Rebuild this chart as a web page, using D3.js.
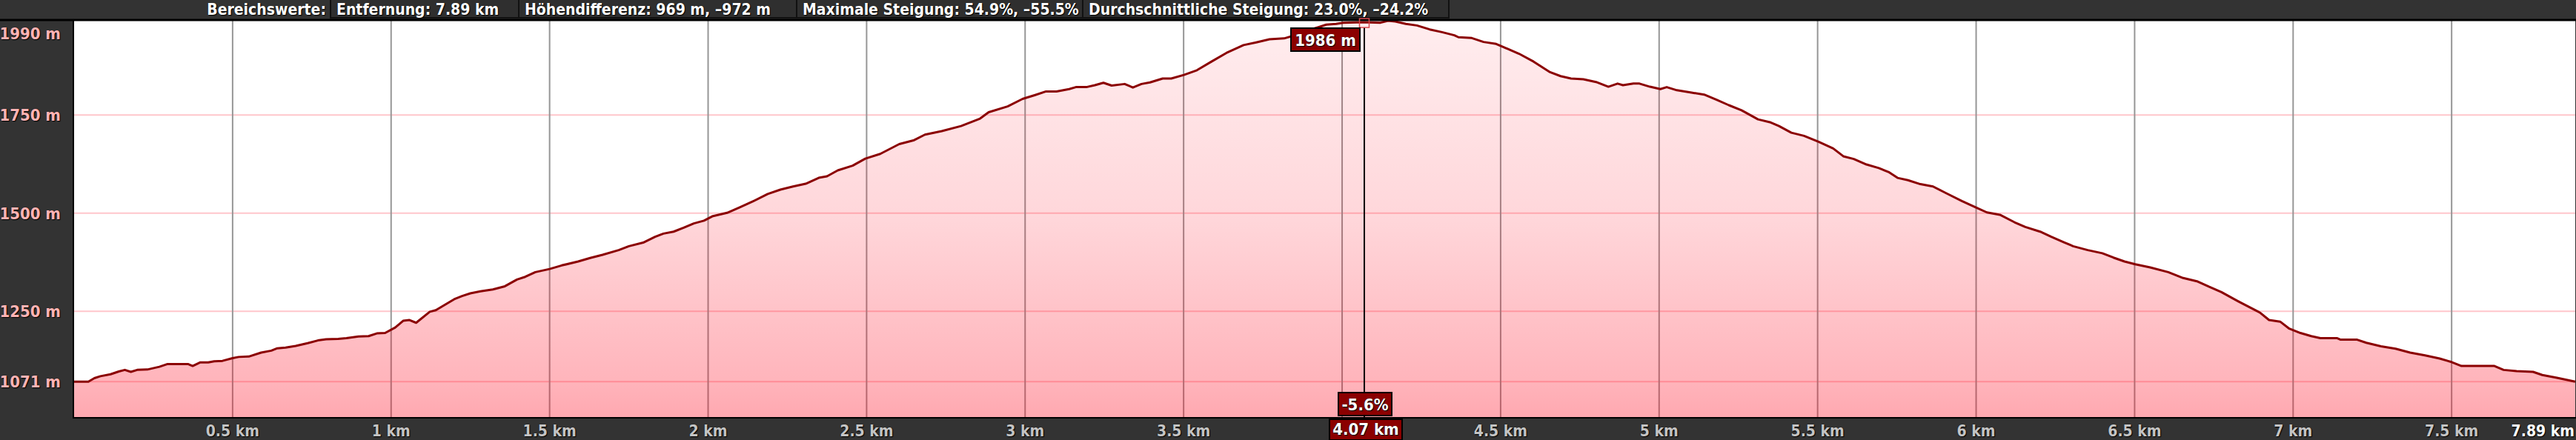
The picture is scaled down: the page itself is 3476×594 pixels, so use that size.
<!DOCTYPE html>
<html>
<head>
<meta charset="utf-8">
<script src="https://cdn.jsdelivr.net/npm/d3@7"></script>
<style>
  html, body { margin: 0; padding: 0; background: #333; }
  svg { display: block; }
  text { font-family: "DejaVu Sans Condensed", "DejaVu Sans", sans-serif; font-stretch: condensed; font-weight: bold; }
  .shadow { text-shadow: 1px 1px 1px #000, 0 0 1px #000; }
</style>
</head>
<body>
<svg id="profile"></svg>
<script>
// distance along track (km) and elevation (m)
const distKm = [
  0.000, 0.045, 0.064, 0.083, 0.115, 0.141, 0.160, 0.179, 0.199, 0.231,
  0.269, 0.295, 0.359, 0.374, 0.397, 0.423, 0.442, 0.468, 0.500, 0.519,
  0.551, 0.590, 0.622, 0.641, 0.667, 0.699, 0.737, 0.769, 0.795, 0.833,
  0.859, 0.897, 0.929, 0.955, 0.981, 1.013, 1.038, 1.058, 1.079, 1.122,
  1.141, 1.199, 1.224, 1.250, 1.282, 1.321, 1.359, 1.397, 1.423, 1.455,
  1.500, 1.538, 1.590, 1.628, 1.667, 1.718, 1.750, 1.795, 1.833, 1.859,
  1.891, 1.923, 1.955, 1.987, 2.013, 2.060, 2.100, 2.141, 2.188, 2.228,
  2.268, 2.308, 2.349, 2.375, 2.409, 2.456, 2.496, 2.543, 2.603, 2.650,
  2.684, 2.737, 2.798, 2.858, 2.885, 2.945, 2.992, 3.032, 3.066, 3.099,
  3.139, 3.160, 3.193, 3.220, 3.247, 3.273, 3.314, 3.340, 3.367, 3.394,
  3.434, 3.461, 3.501, 3.542, 3.588, 3.635, 3.689, 3.729, 3.771, 3.817,
  3.860, 3.890, 3.927, 3.950, 3.981, 4.004, 4.067, 4.121, 4.145, 4.168,
  4.201, 4.236, 4.276, 4.315, 4.354, 4.367, 4.409, 4.446, 4.486, 4.512,
  4.558, 4.604, 4.656, 4.689, 4.722, 4.761, 4.801, 4.840, 4.869, 4.886,
  4.919, 4.938, 4.971, 5.004, 5.024, 5.056, 5.102, 5.142, 5.181, 5.220,
  5.260, 5.312, 5.352, 5.378, 5.417, 5.457, 5.503, 5.549, 5.581, 5.614,
  5.654, 5.693, 5.726, 5.752, 5.785, 5.824, 5.864, 5.903, 5.955, 6.001,
  6.034, 6.075, 6.121, 6.155, 6.202, 6.237, 6.277, 6.306, 6.352, 6.398,
  6.433, 6.468, 6.502, 6.549, 6.606, 6.653, 6.699, 6.734, 6.774, 6.826,
  6.895, 6.924, 6.959, 6.988, 7.023, 7.057, 7.086, 7.138, 7.150, 7.202,
  7.231, 7.277, 7.323, 7.369, 7.416, 7.462, 7.500, 7.531, 7.635, 7.664,
  7.705, 7.757, 7.786, 7.832, 7.890
];
const elevM = [
  1071, 1071, 1080, 1085, 1090, 1097, 1101, 1096, 1101, 1102,
  1109, 1116, 1116, 1111, 1120, 1120, 1123, 1124, 1131, 1134,
  1135, 1145, 1150, 1156, 1158, 1162, 1169, 1176, 1179, 1180,
  1182, 1186, 1187, 1194, 1195, 1209, 1226, 1228, 1221, 1249,
  1253, 1281, 1289, 1296, 1301, 1306, 1314, 1331, 1338, 1350,
  1358, 1367, 1377, 1386, 1394, 1406, 1416, 1425, 1440, 1448,
  1453, 1463, 1474, 1481, 1492, 1501, 1515, 1530, 1549, 1560,
  1568, 1575, 1590, 1594, 1609, 1621, 1639, 1651, 1676, 1686,
  1700, 1709, 1722, 1741, 1757, 1772, 1791, 1801, 1810, 1810,
  1816, 1821, 1821, 1826, 1832, 1825, 1829, 1820, 1829, 1833,
  1843, 1843, 1852, 1864, 1886, 1908, 1928, 1935, 1943, 1945,
  1955, 1965, 1974, 1980, 1982, 1985, 1986, 1985, 1990, 1988,
  1982, 1978, 1968, 1961, 1953, 1948, 1946, 1936, 1931, 1922,
  1906, 1886, 1859, 1849, 1843, 1841, 1834, 1822, 1830, 1826,
  1830, 1830, 1822, 1816, 1821, 1813, 1807, 1802, 1789, 1775,
  1762, 1739, 1731, 1722, 1705, 1697, 1682, 1665, 1645, 1638,
  1624, 1615, 1604, 1590, 1584, 1574, 1568, 1552, 1531, 1514,
  1502, 1496, 1477, 1465, 1453, 1440, 1426, 1416, 1406, 1398,
  1387, 1377, 1370, 1362, 1350, 1335, 1326, 1313, 1299, 1276,
  1247, 1228, 1224, 1206, 1195, 1187, 1182, 1182, 1178, 1178,
  1170, 1161, 1155, 1145, 1138, 1130, 1121, 1111, 1111, 1101,
  1098, 1096, 1088, 1081, 1071
];

const xTicks = [0.5, 1, 1.5, 2, 2.5, 3, 3.5, 4, 4.5, 5, 5.5, 6, 6.5, 7, 7.5];
const yTicks = [1990, 1750, 1500, 1250, 1071];
const totalKm = 7.89;

const headerTitle = 'Bereichswerte:';
const headerItems = [
  'Entfernung: 7.89 km',
  'Höhendifferenz: 969 m, –972 m',
  'Maximale Steigung: 54.9%, –55.5%',
  'Durchschnittliche Steigung: 23.0%, –24.2%'
];

// hover cursor shown in the screenshot
const cursorKm = 4.07;
const cursorElev = 1986;
const cursorSlope = '-5.6%';

const width = 3476;
const height = 594;
const margin = { top: 28, right: 1, bottom: 31, left: 100 };
const headerEdges = [446, 700, 1075, 1461, 1955];

const svg = d3.select('#profile')
  .attr('width', width)
  .attr('height', height);

svg.append('rect')
  .attr('width', width)
  .attr('height', height)
  .attr('fill', '#333');

const x = d3.scaleLinear()
  .domain([0, totalKm])
  .range([margin.left, width - margin.right]);
const y = d3.scaleLinear()
  .domain([981, 1990])
  .range([height - margin.bottom, margin.top]);

const data = distKm.map((d, i) => ({ km: d, elev: elevM[i] }));

// plot background
svg.append('rect')
  .attr('x', x(0))
  .attr('y', margin.top)
  .attr('width', x(totalKm) - x(0))
  .attr('height', y(981) - margin.top)
  .attr('fill', '#fff');

// grid
svg.append('g')
  .selectAll('line')
  .data(yTicks.slice(1))
  .join('line')
    .attr('x1', x(0))
    .attr('x2', x(totalKm))
    .attr('y1', d => y(d))
    .attr('y2', d => y(d))
    .attr('stroke', '#ffc6cb')
    .attr('stroke-width', 2);
svg.append('g')
  .selectAll('line')
  .data(xTicks)
  .join('line')
    .attr('x1', d => x(d))
    .attr('x2', d => x(d))
    .attr('y1', margin.top)
    .attr('y2', y(981))
    .attr('stroke', '#969696')
    .attr('stroke-width', 2);

// fill gradient
const grad = svg.append('defs').append('linearGradient')
  .attr('id', 'fillGrad')
  .attr('gradientUnits', 'userSpaceOnUse')
  .attr('x1', 0).attr('x2', 0)
  .attr('y1', margin.top).attr('y2', y(981));
[[0, 0.07], [0.5, 0.16], [0.9, 0.29], [1, 0.34]].forEach(([o, a]) => {
  grad.append('stop')
    .attr('offset', o)
    .attr('stop-color', '#ff0018')
    .attr('stop-opacity', a);
});

const area = d3.area()
  .x(d => x(d.km))
  .y0(y(981))
  .y1(d => y(d.elev));
const line = d3.line()
  .x(d => x(d.km))
  .y(d => y(d.elev));

svg.append('path')
  .datum(data)
  .attr('d', area)
  .attr('fill', 'url(#fillGrad)');
svg.append('path')
  .datum(data)
  .attr('d', line)
  .attr('fill', 'none')
  .attr('stroke', '#8b0000')
  .attr('stroke-width', 3)
  .attr('stroke-linejoin', 'round');

// plot frame (left + bottom)
svg.append('line')
  .attr('x1', x(0) - 1).attr('x2', x(0) - 1)
  .attr('y1', margin.top).attr('y2', y(981) + 2)
  .attr('stroke', '#000').attr('stroke-width', 2);
svg.append('line')
  .attr('x1', x(0) - 2).attr('x2', width)
  .attr('y1', y(981) + 1).attr('y2', y(981) + 1)
  .attr('stroke', '#000').attr('stroke-width', 2);

// header bar
svg.append('rect')
  .attr('width', width)
  .attr('height', margin.top - 1)
  .attr('fill', '#333');
svg.append('line')
  .attr('x1', 0).attr('x2', width)
  .attr('y1', margin.top - 1).attr('y2', margin.top - 1)
  .attr('stroke', '#000').attr('stroke-width', 3);

svg.append('text')
  .attr('class', 'shadow')
  .attr('x', headerEdges[0] - 6)
  .attr('y', 20)
  .attr('text-anchor', 'end')
  .attr('fill', '#fff')
  .attr('font-size', 21)
  .text(headerTitle);

headerItems.forEach((t, i) => {
  svg.append('rect')
    .attr('x', headerEdges[i])
    .attr('y', -2)
    .attr('width', headerEdges[i + 1] - headerEdges[i])
    .attr('height', 26)
    .attr('fill', '#2f2f2f')
    .attr('stroke', '#111')
    .attr('stroke-width', 2);
  svg.append('text')
    .attr('class', 'shadow')
    .attr('x', headerEdges[i] + 8)
    .attr('y', 20)
    .attr('fill', '#fff')
    .attr('font-size', 21)
    .text(t);
});

// y labels
svg.append('g')
  .selectAll('text')
  .data(yTicks)
  .join('text')
    .attr('class', 'shadow')
    .attr('x', 82)
    .attr('y', d => Math.max(y(d), 45) + 8)
    .attr('text-anchor', 'end')
    .attr('fill', '#ffb4b4')
    .attr('font-size', 22)
    .text(d => `${d} m`);

// x labels (the one under the cursor tag is hidden by it)
const cx = x(cursorKm);
const cy = y(cursorElev);
svg.append('g')
  .selectAll('text')
  .data(xTicks.filter(d => Math.abs(x(d) - cx) > 70))
  .join('text')
    .attr('class', 'shadow')
    .attr('x', d => x(d))
    .attr('y', 589)
    .attr('text-anchor', 'middle')
    .attr('fill', '#c4c4c4')
    .attr('font-size', 21)
    .text(d => `${d} km`);
svg.append('text')
  .attr('class', 'shadow')
  .attr('x', width - 2)
  .attr('y', 589)
  .attr('text-anchor', 'end')
  .attr('fill', '#fff')
  .attr('font-size', 21)
  .text(`${totalKm} km`);

// cursor
svg.append('line')
  .attr('x1', cx).attr('x2', cx)
  .attr('y1', cy + 7).attr('y2', y(981))
  .attr('stroke', '#000')
  .attr('stroke-width', 2);
svg.append('rect')
  .attr('x', cx - 6.5).attr('y', cy - 5)
  .attr('width', 13).attr('height', 12)
  .attr('fill', 'none')
  .attr('stroke', '#d9484f')
  .attr('stroke-width', 1.5);

function tagBox(cxBox, top, w, h, label, dy) {
  svg.append('rect')
    .attr('x', cxBox - w / 2)
    .attr('y', top)
    .attr('width', w)
    .attr('height', h)
    .attr('fill', '#8b0000')
    .attr('stroke', '#000')
    .attr('stroke-width', 2);
  svg.append('text')
    .attr('class', 'shadow')
    .attr('x', cxBox)
    .attr('y', top + h / 2 + dy)
    .attr('text-anchor', 'middle')
    .attr('fill', '#fff')
    .attr('font-size', 22)
    .text(label);
}

tagBox(cx - 6 - 46.5, 38, 93, 31, `${cursorElev} m`, 8);
tagBox(cx + 1, 530, 72, 31, cursorSlope, 8);
tagBox(cx + 2, 566, 98, 28, `${cursorKm} km`, 7);
</script>
</body>
</html>
